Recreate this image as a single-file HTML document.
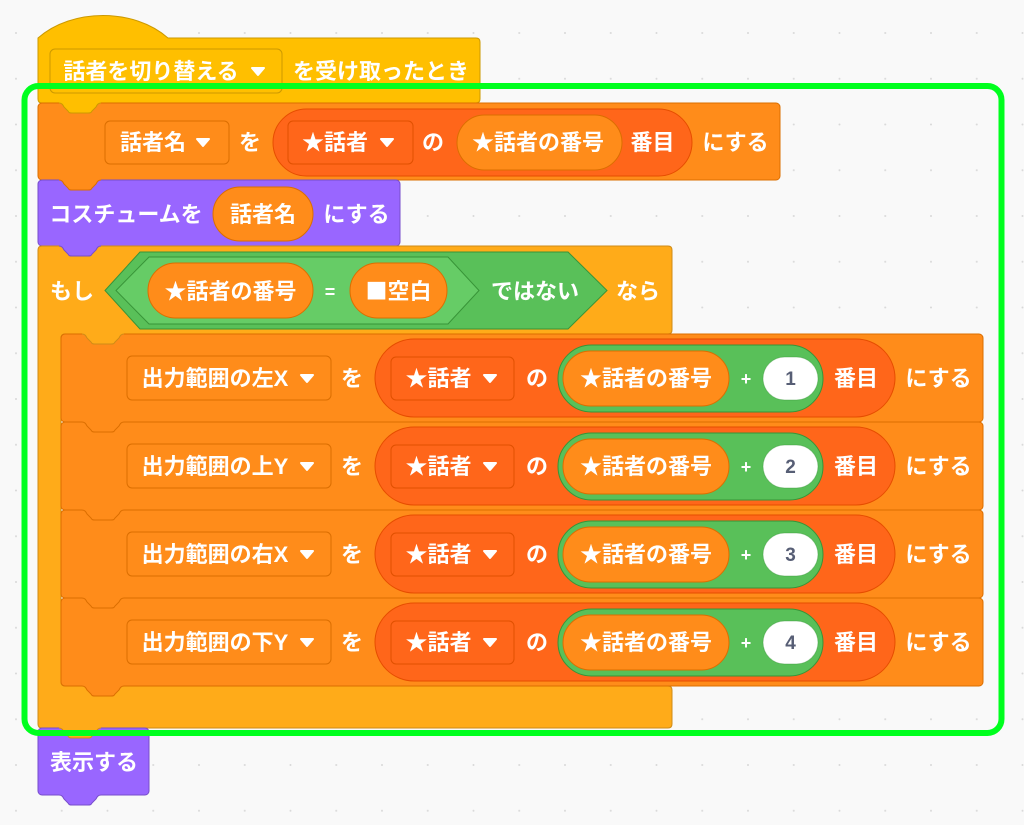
<!DOCTYPE html>
<html><head><meta charset="utf-8"><style>
html,body{margin:0;padding:0;background:#F9F9F9;}
svg{display:block;}
text{font-family:"Liberation Sans","Noto Sans CJK JP",sans-serif;font-weight:bold;fill:#fff;font-size:22px;text-anchor:middle;}
.n{fill:#575E75;font-size:19px;}
</style></head><body>
<svg width="1024" height="825" viewBox="0 0 1024 825" xmlns="http://www.w3.org/2000/svg">
<defs>
<pattern id="dots" x="15" y="32" width="45.75" height="45.75" patternUnits="userSpaceOnUse">
<circle cx="1" cy="1" r="1" fill="#D8D8D8"/>
</pattern>
</defs>
<rect width="1024" height="825" fill="#F9F9F9"/>
<rect width="1024" height="825" fill="url(#dots)"/>

<!-- Hat block -->
<path d="M38,38 C72,8 134,8 168,38 H476 Q480,38 480,42 V99 Q480,103 476,103 H42 Q38,103 38,99 Z" fill="#FFBF00" stroke="#CC9900" stroke-width="1"/>
<!-- Set1 -->
<rect x="38" y="103" width="742" height="77" rx="4" fill="#FF8C1A" stroke="#DB6E00"/>
<!-- Purple costume -->
<rect x="38" y="180" width="362" height="66" rx="4" fill="#9966FF" stroke="#774DCB"/>
<!-- If block -->
<path d="M38,250 Q38,246 42,246 H668 Q672,246 672,250 V330 Q672,334 668,334 H65 Q61,334 61,338 V682 Q61,686 65,686 H668 Q672,686 672,690 V724 Q672,728 668,728 H42 Q38,728 38,724 Z" fill="#FFAB19" stroke="#CF8B17"/>
<!-- inner blocks -->
<rect x="61" y="334" width="922" height="88" rx="4" fill="#FF8C1A" stroke="#DB6E00"/>
<rect x="61" y="422" width="922" height="88" rx="4" fill="#FF8C1A" stroke="#DB6E00"/>
<rect x="61" y="510" width="922" height="88" rx="4" fill="#FF8C1A" stroke="#DB6E00"/>
<rect x="61" y="598" width="922" height="88" rx="4" fill="#FF8C1A" stroke="#DB6E00"/>
<!-- show block -->
<rect x="38" y="728" width="111" height="67" rx="4" fill="#9966FF" stroke="#774DCB"/>

<!-- tabs -->
<g>
<path d="M59,102 L59,103 C62,103 63,105 64,107 L68,111 C69,113 70,113 72,113 H88 C90,113 91,113 92,111 L96,107 C97,105 98,103 101,103 L101,102 Z" fill="#FFBF00"/>
<path d="M59,103 C62,103 63,105 64,107 L68,111 C69,113 70,113 72,113 H88 C90,113 91,113 92,111 L96,107 C97,105 98,103 101,103" fill="none" stroke="#CC9900"/>

<path d="M59,179 L59,180 C62,180 63,182 64,184 L68,188 C69,190 70,190 72,190 H88 C90,190 91,190 92,188 L96,184 C97,182 98,180 101,180 L101,179 Z" fill="#FF8C1A"/>
<path d="M59,180 C62,180 63,182 64,184 L68,188 C69,190 70,190 72,190 H88 C90,190 91,190 92,188 L96,184 C97,182 98,180 101,180" fill="none" stroke="#DB6E00"/>

<path d="M59,245 L59,246 C62,246 63,248 64,250 L68,254 C69,256 70,256 72,256 H88 C90,256 91,256 92,254 L96,250 C97,248 98,246 101,246 L101,245 Z" fill="#9966FF"/>
<path d="M59,246 C62,246 63,248 64,250 L68,254 C69,256 70,256 72,256 H88 C90,256 91,256 92,254 L96,250 C97,248 98,246 101,246" fill="none" stroke="#774DCB"/>

<path d="M82,333 L82,334 C85,334 86,336 87,338 L91,342 C92,344 93,344 95,344 H111 C113,344 114,344 115,342 L119,338 C120,336 121,334 124,334 L124,333 Z" fill="#FFAB19"/>
<path d="M82,334 C85,334 86,336 87,338 L91,342 C92,344 93,344 95,344 H111 C113,344 114,344 115,342 L119,338 C120,336 121,334 124,334" fill="none" stroke="#CF8B17"/>

<path d="M82,421 L82,422 C85,422 86,424 87,426 L91,430 C92,432 93,432 95,432 H111 C113,432 114,432 115,430 L119,426 C120,424 121,422 124,422 L124,421 Z" fill="#FF8C1A"/>
<path d="M82,422 C85,422 86,424 87,426 L91,430 C92,432 93,432 95,432 H111 C113,432 114,432 115,430 L119,426 C120,424 121,422 124,422" fill="none" stroke="#DB6E00"/>

<path d="M82,509 L82,510 C85,510 86,512 87,514 L91,518 C92,520 93,520 95,520 H111 C113,520 114,520 115,518 L119,514 C120,512 121,510 124,510 L124,509 Z" fill="#FF8C1A"/>
<path d="M82,510 C85,510 86,512 87,514 L91,518 C92,520 93,520 95,520 H111 C113,520 114,520 115,518 L119,514 C120,512 121,510 124,510" fill="none" stroke="#DB6E00"/>

<path d="M82,597 L82,598 C85,598 86,600 87,602 L91,606 C92,608 93,608 95,608 H111 C113,608 114,608 115,606 L119,602 C120,600 121,598 124,598 L124,597 Z" fill="#FF8C1A"/>
<path d="M82,598 C85,598 86,600 87,602 L91,606 C92,608 93,608 95,608 H111 C113,608 114,608 115,606 L119,602 C120,600 121,598 124,598" fill="none" stroke="#DB6E00"/>

<path d="M82,685 L82,686 C85,686 86,688 87,690 L91,694 C92,696 93,696 95,696 H111 C113,696 114,696 115,694 L119,690 C120,688 121,686 124,686 L124,685 Z" fill="#FF8C1A"/>
<path d="M82,686 C85,686 86,688 87,690 L91,694 C92,696 93,696 95,696 H111 C113,696 114,696 115,694 L119,690 C120,688 121,686 124,686" fill="none" stroke="#DB6E00"/>

<path d="M59,727 L59,728 C62,728 63,730 64,732 L68,736 C69,738 70,738 72,738 H88 C90,738 91,738 92,736 L96,732 C97,730 98,728 101,728 L101,727 Z" fill="#FFAB19"/>
<path d="M59,728 C62,728 63,730 64,732 L68,736 C69,738 70,738 72,738 H88 C90,738 91,738 92,736 L96,732 C97,730 98,728 101,728" fill="none" stroke="#CF8B17"/>

<path d="M59,794 L59,795 C62,795 63,797 64,799 L68,803 C69,805 70,805 72,805 H88 C90,805 91,805 92,803 L96,799 C97,797 98,795 101,795 L101,794 Z" fill="#9966FF"/>
<path d="M59,795 C62,795 63,797 64,799 L68,803 C69,805 70,805 72,805 H88 C90,805 91,805 92,803 L96,799 C97,797 98,795 101,795" fill="none" stroke="#774DCB"/>
</g>

<!-- Hat contents -->
<rect x="50" y="49" width="232" height="44" rx="5" fill="#FFBF00" stroke="#CC9900"/>
<text x="151" y="79">話者を切り替える</text>
<path d="M252,68 L264,68 L258,75 Z" fill="#fff" stroke="#fff" stroke-width="2" stroke-linejoin="round"/>
<text x="381" y="79">を受け取ったとき</text>

<!-- Set1 contents -->
<rect x="105" y="121" width="124" height="43" rx="5" fill="#FF8C1A" stroke="#DB6E00"/>
<text x="153" y="150">話者名</text>
<path d="M197,139 L209,139 L203,146 Z" fill="#fff" stroke="#fff" stroke-width="2" stroke-linejoin="round"/>
<text x="250" y="150">を</text>
<rect x="273" y="109" width="419" height="67" rx="33.5" fill="#FF661A" stroke="#E64D00"/>
<rect x="288" y="121" width="125" height="43" rx="5" fill="#FF661A" stroke="#E05000"/>
<text x="335" y="150">★話者</text>
<path d="M381,139 L393,139 L387,146 Z" fill="#fff" stroke="#fff" stroke-width="2" stroke-linejoin="round"/>
<text x="433" y="150">の</text>
<rect x="457" y="115" width="165" height="55" rx="27.5" fill="#FF8C1A" stroke="#DB6E00"/>
<text x="538" y="150">★話者の番号</text>
<text x="652.5" y="150">番目</text>
<text x="735.5" y="150">にする</text>

<!-- Purple contents -->
<text x="126" y="222">コスチュームを</text>
<rect x="213" y="187" width="100" height="54" rx="27" fill="#FF8C1A" stroke="#DB6E00"/>
<text x="263" y="222">話者名</text>
<text x="356.5" y="222">にする</text>

<!-- If header -->
<text x="72" y="299">もし</text>
<path d="M105,290.5 L140,252 H568 L607,290.5 L568,329 H140 Z" fill="#59C059" stroke="#389438"/>
<path d="M116,290.5 L149,257 H448 L479,290.5 L448,324 H149 Z" fill="#66CC66" stroke="#389438"/>
<rect x="148" y="263" width="165" height="55" rx="27.5" fill="#FF8C1A" stroke="#DB6E00"/>
<text x="230.5" y="299">★話者の番号</text>
<text x="330" y="298" style="font-size:18px">=</text>
<rect x="350" y="263" width="97" height="55" rx="27.5" fill="#FF8C1A" stroke="#DB6E00"/>
<text x="398.5" y="299"><tspan style="font-family:'Noto Sans CJK JP',sans-serif">■</tspan>空白</text>
<text x="535" y="299">ではない</text>
<text x="638" y="299">なら</text>

<!-- Inner rows -->
<g>
<rect x="127" y="356" width="204" height="44" rx="5" fill="#FF8C1A" stroke="#DB6E00"/>
<text x="215" y="386">出力範囲の左X</text>
<path d="M301,375 L313,375 L307,382 Z" fill="#fff" stroke="#fff" stroke-width="2" stroke-linejoin="round"/>
<text x="352" y="386">を</text>
<rect x="375" y="339" width="520" height="78" rx="39" fill="#FF661A" stroke="#E64D00"/>
<rect x="391" y="357" width="123" height="43" rx="5" fill="#FF661A" stroke="#E05000"/>
<text x="438.5" y="386">★話者</text>
<path d="M484,375 L496,375 L490,382 Z" fill="#fff" stroke="#fff" stroke-width="2" stroke-linejoin="round"/>
<text x="537" y="386">の</text>
<rect x="558" y="345" width="265" height="67" rx="33.5" fill="#59C059" stroke="#389438"/>
<rect x="563" y="351" width="166" height="55" rx="27.5" fill="#FF8C1A" stroke="#DB6E00"/>
<text x="646" y="386">★話者の番号</text>
<text x="746" y="385" style="font-size:18px">+</text>
<rect x="763" y="357" width="55" height="43" rx="21.5" fill="#fff" stroke="#389438" stroke-opacity="0.4"/>
<text class="n" x="790.5" y="385">1</text>
<text x="856" y="386">番目</text>
<text x="938.5" y="386">にする</text>
</g>
<g>
<rect x="127" y="444" width="204" height="44" rx="5" fill="#FF8C1A" stroke="#DB6E00"/>
<text x="215" y="474">出力範囲の上Y</text>
<path d="M301,463 L313,463 L307,470 Z" fill="#fff" stroke="#fff" stroke-width="2" stroke-linejoin="round"/>
<text x="352" y="474">を</text>
<rect x="375" y="427" width="520" height="78" rx="39" fill="#FF661A" stroke="#E64D00"/>
<rect x="391" y="445" width="123" height="43" rx="5" fill="#FF661A" stroke="#E05000"/>
<text x="438.5" y="474">★話者</text>
<path d="M484,463 L496,463 L490,470 Z" fill="#fff" stroke="#fff" stroke-width="2" stroke-linejoin="round"/>
<text x="537" y="474">の</text>
<rect x="558" y="433" width="265" height="67" rx="33.5" fill="#59C059" stroke="#389438"/>
<rect x="563" y="439" width="166" height="55" rx="27.5" fill="#FF8C1A" stroke="#DB6E00"/>
<text x="646" y="474">★話者の番号</text>
<text x="746" y="473" style="font-size:18px">+</text>
<rect x="763" y="445" width="55" height="43" rx="21.5" fill="#fff" stroke="#389438" stroke-opacity="0.4"/>
<text class="n" x="790.5" y="473">2</text>
<text x="856" y="474">番目</text>
<text x="938.5" y="474">にする</text>
</g>
<g>
<rect x="127" y="532" width="204" height="44" rx="5" fill="#FF8C1A" stroke="#DB6E00"/>
<text x="215" y="562">出力範囲の右X</text>
<path d="M301,551 L313,551 L307,558 Z" fill="#fff" stroke="#fff" stroke-width="2" stroke-linejoin="round"/>
<text x="352" y="562">を</text>
<rect x="375" y="515" width="520" height="78" rx="39" fill="#FF661A" stroke="#E64D00"/>
<rect x="391" y="533" width="123" height="43" rx="5" fill="#FF661A" stroke="#E05000"/>
<text x="438.5" y="562">★話者</text>
<path d="M484,551 L496,551 L490,558 Z" fill="#fff" stroke="#fff" stroke-width="2" stroke-linejoin="round"/>
<text x="537" y="562">の</text>
<rect x="558" y="521" width="265" height="67" rx="33.5" fill="#59C059" stroke="#389438"/>
<rect x="563" y="527" width="166" height="55" rx="27.5" fill="#FF8C1A" stroke="#DB6E00"/>
<text x="646" y="562">★話者の番号</text>
<text x="746" y="561" style="font-size:18px">+</text>
<rect x="763" y="533" width="55" height="43" rx="21.5" fill="#fff" stroke="#389438" stroke-opacity="0.4"/>
<text class="n" x="790.5" y="561">3</text>
<text x="856" y="562">番目</text>
<text x="938.5" y="562">にする</text>
</g>
<g>
<rect x="127" y="620" width="204" height="44" rx="5" fill="#FF8C1A" stroke="#DB6E00"/>
<text x="215" y="650">出力範囲の下Y</text>
<path d="M301,639 L313,639 L307,646 Z" fill="#fff" stroke="#fff" stroke-width="2" stroke-linejoin="round"/>
<text x="352" y="650">を</text>
<rect x="375" y="603" width="520" height="78" rx="39" fill="#FF661A" stroke="#E64D00"/>
<rect x="391" y="621" width="123" height="43" rx="5" fill="#FF661A" stroke="#E05000"/>
<text x="438.5" y="650">★話者</text>
<path d="M484,639 L496,639 L490,646 Z" fill="#fff" stroke="#fff" stroke-width="2" stroke-linejoin="round"/>
<text x="537" y="650">の</text>
<rect x="558" y="609" width="265" height="67" rx="33.5" fill="#59C059" stroke="#389438"/>
<rect x="563" y="615" width="166" height="55" rx="27.5" fill="#FF8C1A" stroke="#DB6E00"/>
<text x="646" y="650">★話者の番号</text>
<text x="746" y="649" style="font-size:18px">+</text>
<rect x="763" y="621" width="55" height="43" rx="21.5" fill="#fff" stroke="#389438" stroke-opacity="0.4"/>
<text class="n" x="790.5" y="649">4</text>
<text x="856" y="650">番目</text>
<text x="938.5" y="650">にする</text>
</g>

<!-- show -->
<text x="94" y="770">表示する</text>

<!-- green frame -->
<rect x="24.5" y="86" width="977" height="647" rx="14" fill="none" stroke="#00FF1E" stroke-width="6"/>
</svg>
</body></html>
